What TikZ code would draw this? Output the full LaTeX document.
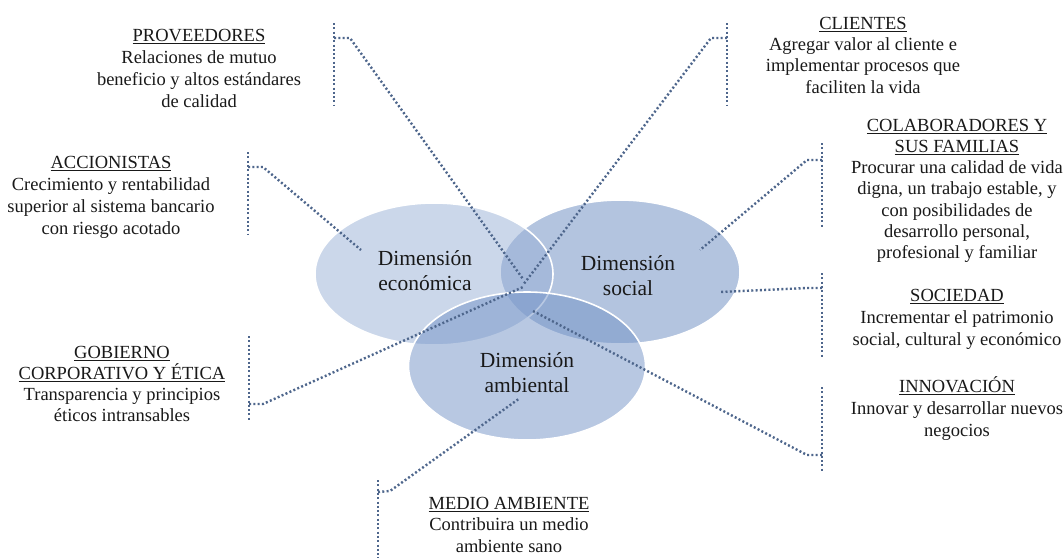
\documentclass[tikz,border=0pt]{standalone}
\usepackage{fontspec}
\setmainfont{Liberation Serif}
\usetikzlibrary{shapes.geometric}
\definecolor{ecoC}{RGB}{152,176,215}
\definecolor{socC}{RGB}{105,139,193}
\definecolor{ambC}{RGB}{115,147,199}
\definecolor{dotC}{RGB}{78,102,140}
\definecolor{txtC}{RGB}{25,25,25}
\newcommand{\ulx}[1]{\setbox0\hbox{#1}\rlap{\rule[-2.6pt]{\wd0}{0.8pt}}\box0}
\newcommand{\fl}{\rule{0pt}{17pt}}
\newcommand{\fd}{\rule{0pt}{19pt}}
\begin{document}
\begin{tikzpicture}[x=1pt,y=-1pt,
  lbl/.style={anchor=north,align=center,inner sep=0pt,text=txtC,font=\fontsize{18.5}{22}\selectfont},
  dimtxt/.style={anchor=north,align=center,inner sep=0pt,text=txtC,font=\fontsize{21.5}{25}\selectfont},
  circ/.style={ellipse,draw=white,line width=1.6pt,fill opacity=0.5,minimum width=240pt,minimum height=144pt,inner sep=0pt},
  brk/.style={draw=dotC,line width=2.4pt,dash pattern=on 2pt off 2.3pt}]
\useasboundingbox[fill=white] (0,0) rectangle (1064,558);
% circles
\node[circ,fill=socC,minimum width=240pt,minimum height=144pt] (soc) at (620,272) {};
\node[circ,fill=ecoC,minimum width=238pt,minimum height=142pt] (eco) at (434,274) {};
\node[circ,fill=ambC,minimum width=237pt,minimum height=148pt] (amb) at (527,366) {};
% coordinates
\coordinate (provA) at (334,23);  \coordinate (provB) at (334,105);
\coordinate (provE) at (334,38);  \coordinate (provS) at (350,38);  \coordinate (provX) at (523,279);
\coordinate (cliA) at (727,23);   \coordinate (cliB) at (727,105);
\coordinate (cliE) at (727,38);   \coordinate (cliS) at (711,38);   \coordinate (cliX) at (523,285);
\coordinate (accA) at (248,152);  \coordinate (accB) at (248,235);
\coordinate (accE) at (248,167);  \coordinate (accS) at (263,167);  \coordinate (accX) at (361,250);
\coordinate (gobA) at (249,336);  \coordinate (gobB) at (249,420);
\coordinate (gobE) at (249,404);  \coordinate (gobS) at (263,404);  \coordinate (gobX) at (523,287);
\coordinate (medA) at (378,480);  \coordinate (medB) at (378,558);
\coordinate (medE) at (378,492);  \coordinate (medS) at (390,491);  \coordinate (medX) at (520,398);
\coordinate (colA) at (822,143);  \coordinate (colB) at (822,227);
\coordinate (colE) at (822,160);  \coordinate (colS) at (807,160);  \coordinate (colX) at (700,250);
\coordinate (socA) at (822,273);  \coordinate (socB) at (822,357);
\coordinate (socE) at (822,288);  \coordinate (socS) at (807,288);  \coordinate (socX) at (720,292);
\coordinate (innA) at (822,387);  \coordinate (innB) at (822,472);
\coordinate (innE) at (822,455);  \coordinate (innS) at (807,455);  \coordinate (innX) at (533,311);
% brackets
\foreach \n in {prov,cli,acc,gob,med,col,soc,inn}{
  \draw[brk] (\n A) -- (\n B);
  \draw[brk] (\n E) -- (\n S) -- (\n X);
}
% dimension labels
\node[dimtxt] (ecoT) at (425,246) {\fd Dimensión\\económica};
\node[dimtxt] (socT) at (628,251) {\fd Dimensión\\social};
\node[dimtxt] (ambT) at (527,348) {\fd Dimensión\\ambiental};
% stakeholder labels
\node[lbl] (provT) at (199,24) {\fl\ulx{PROVEEDORES}\\Relaciones de mutuo\\beneficio y altos estándares\\de calidad};
\node[lbl,font=\fontsize{18.5}{21.3}\selectfont] (cliT) at (863,12) {\fl\ulx{CLIENTES}\\Agregar valor al cliente e\\implementar procesos que\\faciliten la vida};
\node[lbl,font=\fontsize{18.5}{21.2}\selectfont] (colT) at (957,114) {\fl\ulx{COLABORADORES Y}\\\ulx{SUS FAMILIAS}\\Procurar una calidad de vida\\digna, un trabajo estable, y\\con posibilidades de\\desarrollo personal,\\profesional y familiar};
\node[lbl] (socL) at (957,284) {\fl\ulx{SOCIEDAD}\\Incrementar el patrimonio\\social, cultural y económico};
\node[lbl] (innT) at (957,375) {\fl\ulx{INNOVACIÓN}\\Innovar y desarrollar nuevos\\negocios};
\node[lbl] (accT) at (111,151) {\fl\ulx{ACCIONISTAS}\\Crecimiento y rentabilidad\\superior al sistema bancario\\con riesgo acotado};
\node[lbl,font=\fontsize{18.5}{21}\selectfont] (gobT) at (122,341) {\fl\ulx{GOBIERNO}\\\ulx{CORPORATIVO Y ÉTICA}\\Transparencia y principios\\éticos intransables};
\node[lbl,font=\fontsize{18.5}{21.5}\selectfont] (medT) at (509,492) {\fl\ulx{MEDIO AMBIENTE}\\Contribuira un medio\\ambiente sano};
\end{tikzpicture}
\end{document}
